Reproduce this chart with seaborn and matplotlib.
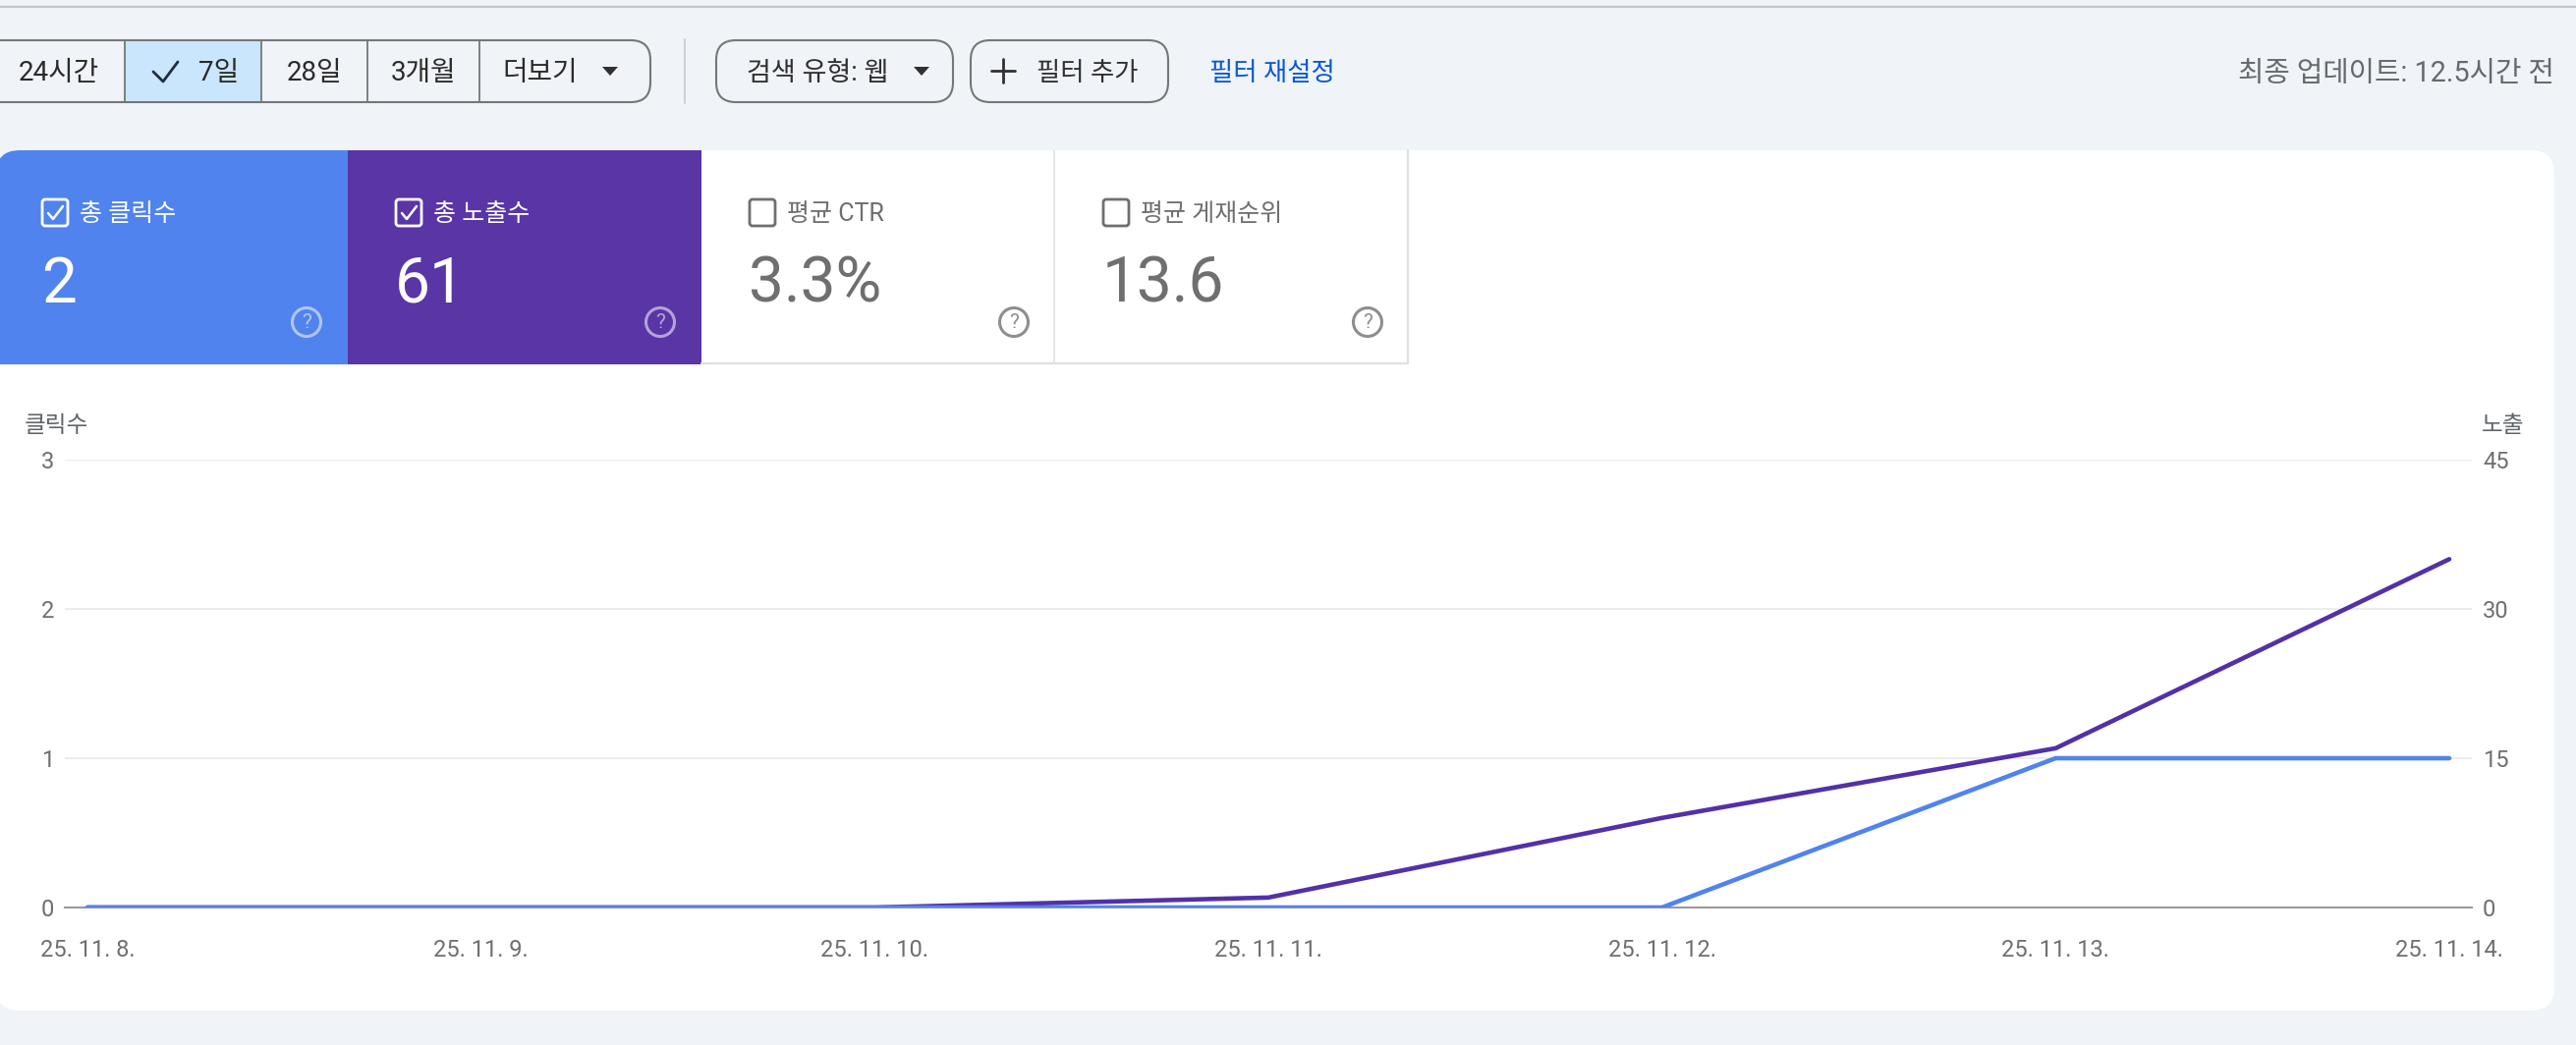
"""Search Console performance card: toolbar, metric tiles and the clicks/impressions chart."""

import matplotlib
matplotlib.use("Agg")  # no display here
import matplotlib.pyplot as plt
import pandas as pd
import seaborn as sns
from matplotlib.patches import Circle, FancyBboxPatch, Polygon, Rectangle

W, H = 2622, 1064

DATES = ["25. 11. 8.", "25. 11. 9.", "25. 11. 10.", "25. 11. 11.", "25. 11. 12.", "25. 11. 13.", "25. 11. 14."]
CLICKS = [0, 0, 0, 0, 0, 1, 1]
IMPRESSIONS = [0, 0, 0, 1, 9, 16, 35]

CLICK_TICKS = [0, 1, 2, 3]
IMPRESSION_TICKS = [0, 15, 30, 45]

RANGE_BUTTONS = ["24시간", "7일", "28일", "3개월", "더보기"]
TILE_LABELS = ["총 클릭수", "총 노출수", "평균 CTR", "평균 게재순위"]
TILE_VALUES = ["2", "61", "3.3%", "13.6"]

BG = "#f0f4f9"
BLUE = "#5083ee"
PURPLE = "#5935a6"
LINE_PURPLE = "#5231a8"
BORDER = "#747775"
GRID = "#ececec"
TEXT = "#2a2a2a"
MUTED = "#6f6f6f"

sns.set_theme(style="white")
plt.rcParams["font.family"] = ["Roboto", "Noto Sans CJK KR", "DejaVu Sans"]


def rounded(ui, x0, x1, y0, y1, radius, **kw):
    box = FancyBboxPatch((x0, y0), x1 - x0, y1 - y0, boxstyle=f"round,pad=0,rounding_size={radius}", **kw)
    ui.add_patch(box)
    return box


def caret(ui, cx, cy, color="#303030"):
    ui.add_patch(Polygon([(cx - 8, cy - 4), (cx + 8, cy - 4), (cx, cy + 5)], closed=True, fc=color, ec="none"))


def draw_toolbar(ui):
    ui.plot([0, W], [7, 7], color="#c4c7c9", lw=1.6)

    # range selector runs off the left edge of the screenshot
    rounded(ui, -30, 662, 41, 104, 20, fc=BG, ec=BORDER, lw=1.5)
    ui.add_patch(Rectangle((127, 42), 139, 61, fc="#c9e6fd", ec="none"))
    for x in [127, 266, 374, 488]:
        ui.plot([x, x], [41, 104], color=BORDER, lw=1.3)

    centers = [60, 223, 320, 431, 550]
    for label, cx in zip(RANGE_BUTTONS, centers):
        ui.text(cx, 75, label, ha="center", va="center", fontsize=20, color=TEXT)
    ui.plot([156, 166, 181], [73, 83, 63], color="#1f2d3d", lw=2.0)
    caret(ui, 621, 72)

    ui.plot([697, 697], [40, 105], color="#c9cccf", lw=1.3)

    rounded(ui, 729, 970, 41, 104, 20, fc=BG, ec=BORDER, lw=1.5)
    ui.text(760, 75, "검색 유형: 웹", ha="left", va="center", fontsize=19.5, color="#303030")
    caret(ui, 938, 72)

    rounded(ui, 988, 1189, 41, 104, 20, fc=BG, ec=BORDER, lw=1.5)
    ui.plot([1009, 1033], [72, 72], color="#303030", lw=2.0)
    ui.plot([1021, 1021], [60, 84], color="#303030", lw=2.0)
    ui.text(1055, 75, "필터 추가", ha="left", va="center", fontsize=19, color="#303030")

    ui.text(1231, 75, "필터 재설정", ha="left", va="center", fontsize=19, color="#0b57d0")
    ui.text(2600, 75, "최종 업데이트: 12.5시간 전", ha="right", va="center", fontsize=20.7, color="#666a6d")


def draw_tiles(ui, card):
    edges = [0, 354, 714, 1073, 1433]
    content = [0, 360, 720, 1080]
    fills = [BLUE, PURPLE, "white", "white"]
    for i, (label, value) in enumerate(zip(TILE_LABELS, TILE_VALUES)):
        left, right = edges[i], edges[i + 1]
        tile = Rectangle((left, 153), right - left, 218, fc=fills[i], ec="none")
        ui.add_patch(tile)
        tile.set_clip_path(card)

        x0 = content[i]
        selected = i < 2
        fg = "white" if selected else MUTED
        ui.add_patch(FancyBboxPatch((x0 + 43, 203), 26, 27, boxstyle="round,pad=0,rounding_size=3",
                                    fc="none", ec=fg, lw=2.0))
        if selected:
            ui.plot([x0 + 49, x0 + 54, x0 + 64], [217, 223, 210], color=fg, lw=1.8)
        ui.text(x0 + 81, 218, label, ha="left", va="center", fontsize=18, color=fg)
        ui.text(x0 + 42, 290, value, ha="left", va="center", fontsize=46, color=fg)

        help_color = "#ffffff" if selected else "#8e8e8e"
        alpha = 0.55 if selected else 1.0
        ui.add_patch(Circle((x0 + 312, 328), 14.5, fc="none", ec=help_color, lw=2.2, alpha=alpha))
        ui.text(x0 + 312, 329, "?", ha="center", va="center", fontsize=15, color=help_color, alpha=alpha)

    # thin borders around the two unselected tiles
    ui.plot([714, 1433], [370, 370], color="#e0e0e0", lw=1.6)
    ui.plot([1073, 1073], [153, 370], color="#e0e0e0", lw=1.2)
    ui.plot([1433, 1433], [153, 370], color="#e0e0e0", lw=1.6)


def draw_chart(fig):
    df = pd.DataFrame({"date": DATES, "clicks": CLICKS, "impressions": IMPRESSIONS})

    left, right, top, bottom = 66, 2516, 468, 924
    ax = fig.add_axes([left / W, 1 - bottom / H, (right - left) / W, (bottom - top) / H])
    ax.patch.set_alpha(0)

    # impressions sit on the base axes so the grid stays under both lines
    sns.lineplot(data=df, x="date", y="impressions", ax=ax, color=LINE_PURPLE, lw=3.3, sort=False,
                 solid_capstyle="round")
    ax.set_ylim(0, 45)
    ax.set_yticks(IMPRESSION_TICKS)
    ax.grid(axis="y", color=GRID, lw=1.5)
    ax.grid(axis="x", visible=False)
    ax.set_axisbelow(True)

    clicks_ax = ax.twinx()
    sns.lineplot(data=df, x="date", y="clicks", ax=clicks_ax, color=BLUE, lw=3.3, sort=False,
                 solid_capstyle="round")
    clicks_ax.set_ylim(0, 3)
    clicks_ax.set_yticks(CLICK_TICKS)
    clicks_ax.grid(False)

    # twinx moves the ticks, so swap the sides only now
    ax.yaxis.tick_right()
    clicks_ax.yaxis.tick_left()

    # first day at px 89, last at px 2493
    step = (2493 - 89) / 6
    ax.set_xlim(-(89 - left) / step, 6 + (right - 2493) / step)

    for a in [ax, clicks_ax]:
        a.set_xlabel("")
        a.set_ylabel("")
        for name in ["top", "left", "right", "bottom"]:
            a.spines[name].set_visible(False)
    ax.spines["bottom"].set_visible(True)
    ax.spines["bottom"].set_color("#9a9a9a")
    ax.spines["bottom"].set_linewidth(1.5)

    ax.tick_params(axis="x", length=0, pad=23, labelsize=17, labelcolor=MUTED)
    ax.tick_params(axis="y", length=0, pad=8, labelsize=17, labelcolor=MUTED)
    clicks_ax.tick_params(axis="y", length=0, pad=8, labelsize=17, labelcolor=MUTED)


def main():
    fig = plt.figure(figsize=(W / 100, H / 100), dpi=100, facecolor=BG)

    ui = fig.add_axes([0, 0, 1, 1], zorder=-1)
    ui.set_xlim(0, W)
    ui.set_ylim(H, 0)
    ui.axis("off")

    card = rounded(ui, -4, 2600, 153, 1029, 24, fc="white", ec="none")
    draw_toolbar(ui)
    draw_tiles(ui, card)
    ui.text(25, 434, "클릭수", ha="left", va="center", fontsize=17, color="#5f6368")
    ui.text(2526, 434, "노출", ha="left", va="center", fontsize=17, color="#5f6368")

    draw_chart(fig)

    fig.savefig("out.png", dpi=100, facecolor=BG)
    plt.close(fig)


if __name__ == "__main__":
    main()
